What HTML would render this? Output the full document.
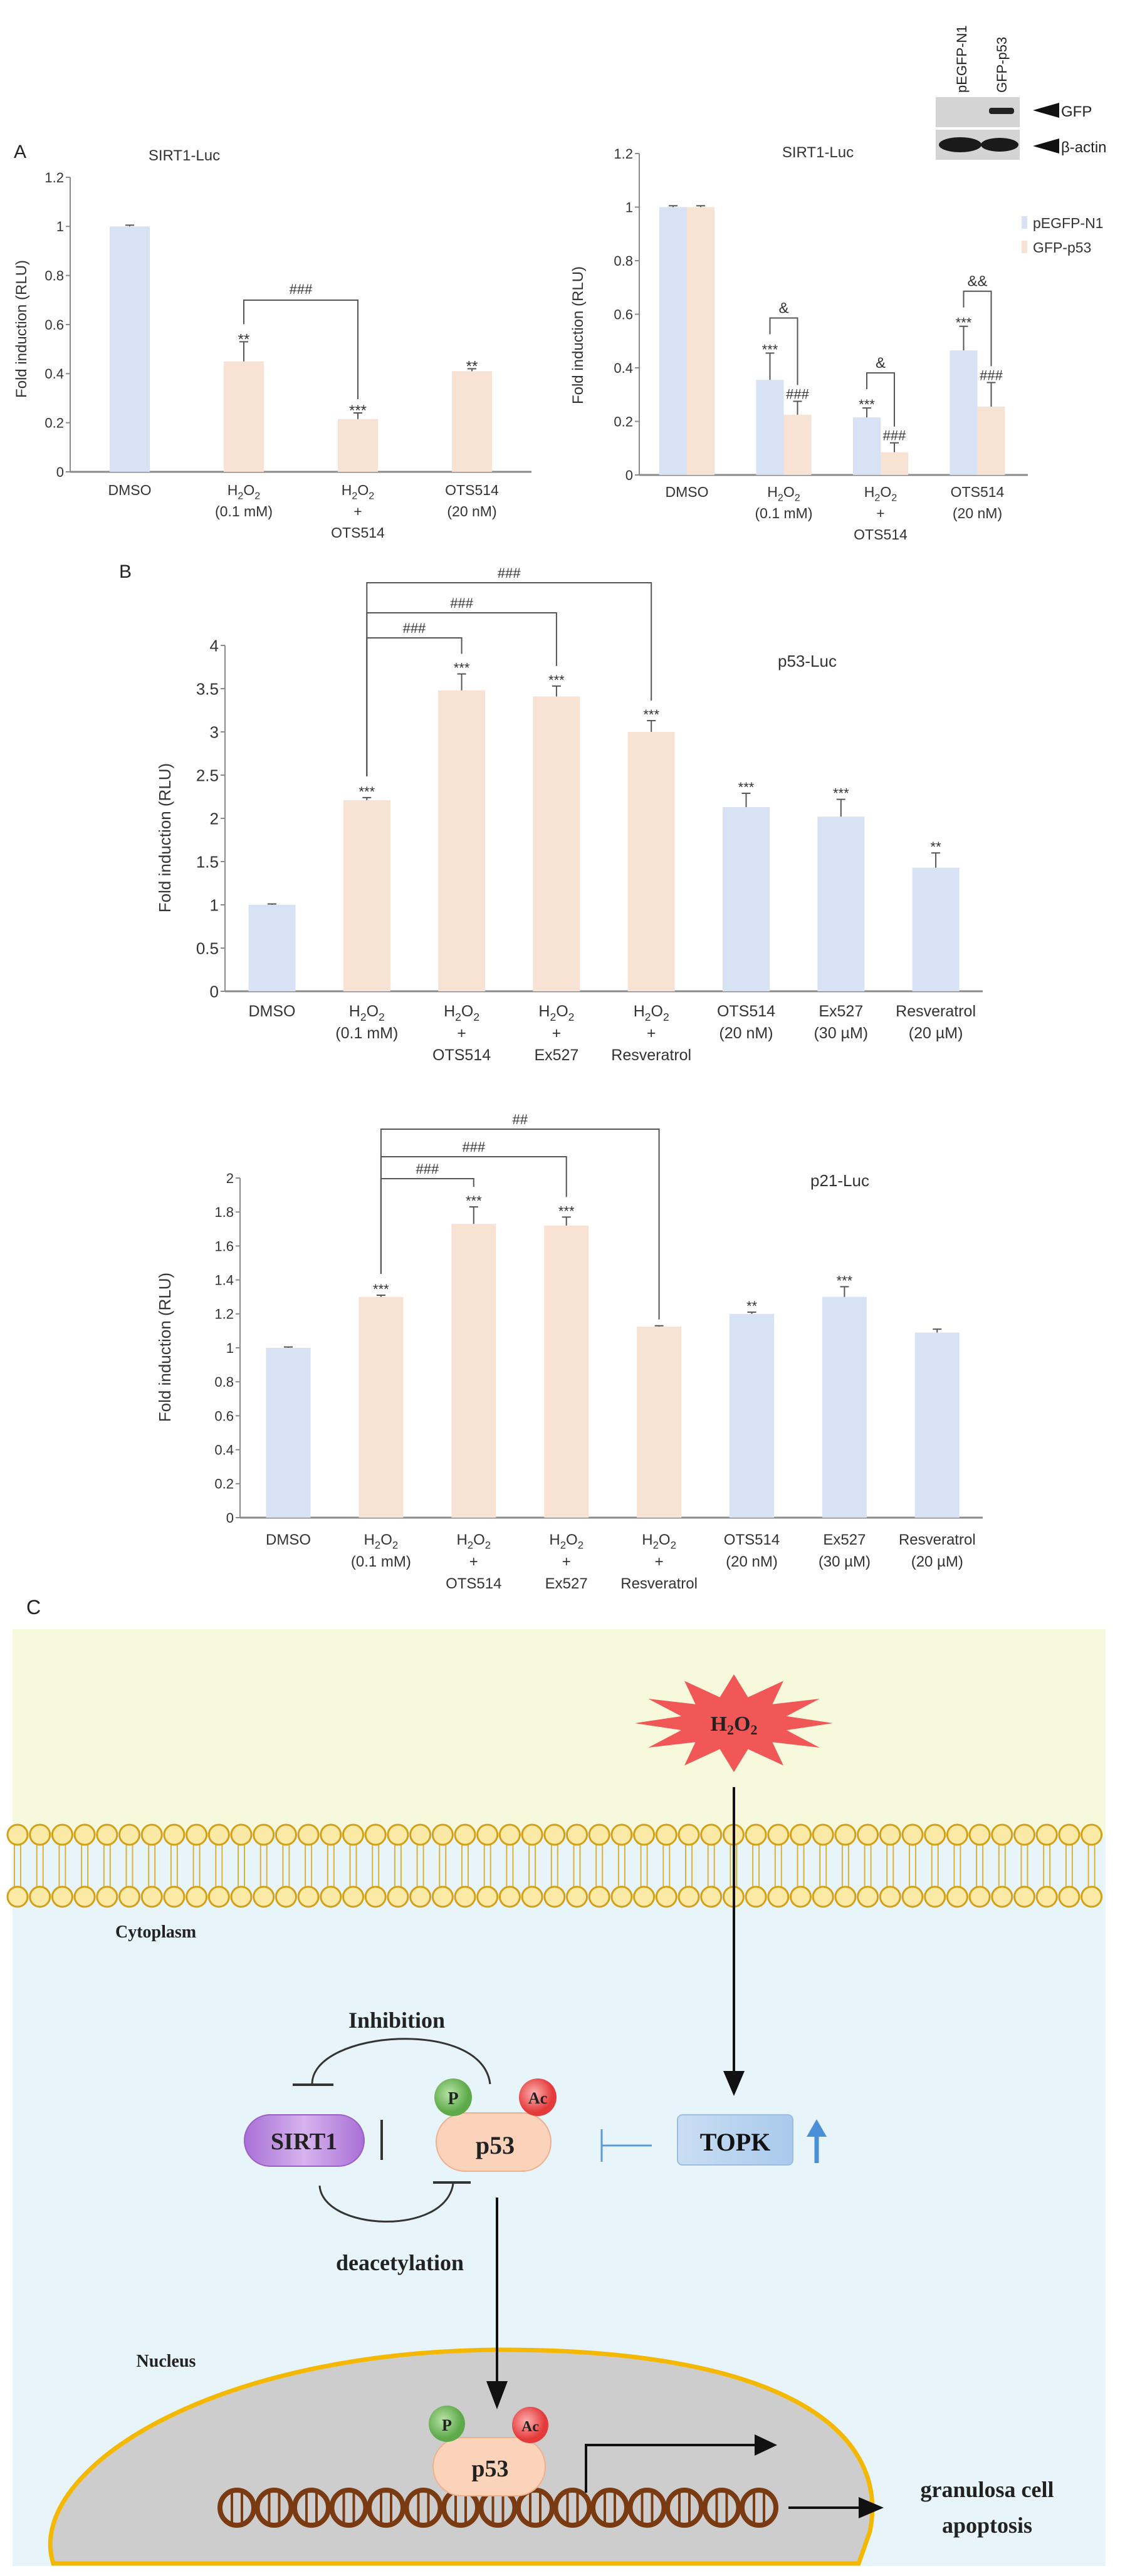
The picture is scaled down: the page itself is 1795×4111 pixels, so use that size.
<!DOCTYPE html>
<html><head><meta charset="utf-8"><style>
html,body{margin:0;padding:0;background:#fff}
svg{display:block}
text{font-family:"Liberation Sans",sans-serif}
.serif{font-family:"Liberation Serif",serif;font-weight:bold}
</style></head><body>
<svg id="fig" width="1795" height="4111" viewBox="0 0 1795 4111" xmlns="http://www.w3.org/2000/svg">
<g id="chartA1"></g>
<g id="chartA2"></g>
<g id="chartB1"></g>
<g id="chartB2"></g>
<text x="22" y="252" font-size="30" fill="#222">A</text>
<text x="190" y="922" font-size="30" fill="#222">B</text>
<text x="42" y="2576" font-size="32" fill="#222">C</text>

<!-- western blot -->
<g>
<rect x="1493" y="155" width="134" height="48" fill="#d4d4d4"/>
<rect x="1493" y="207" width="134" height="48" fill="#d4d4d4"/>
<rect x="1578" y="172" width="40" height="10" rx="4" fill="#222"/>
<ellipse cx="1532" cy="231" rx="34" ry="12" fill="#1a1a1a"/>
<ellipse cx="1595" cy="231" rx="30" ry="11" fill="#1a1a1a"/>
<text transform="translate(1542,148) rotate(-90)" font-size="22" fill="#222">pEGFP-N1</text>
<text transform="translate(1606,148) rotate(-90)" font-size="22" fill="#222">GFP-p53</text>
<polygon points="1648,176 1690,164 1690,188" fill="#111"/>
<text x="1693" y="186" font-size="24" fill="#222">GFP</text>
<polygon points="1648,233 1690,221 1690,245" fill="#111"/>
<text x="1693" y="243" font-size="24" fill="#222">β-actin</text>
</g>

<!-- panel C -->
<g id="panelC">
<rect x="20" y="2600" width="1744" height="330" fill="#f7f9dc"/>
<rect x="20" y="2930" width="1744" height="1165" fill="#e7f4f9"/>
<g id="membrane"></g>
<polygon id="star" fill="#f25757"/>
<text x="1171" y="2762" class="serif" font-size="34" text-anchor="middle" fill="#222">H<tspan font-size="22" dy="6">2</tspan><tspan dy="-6">O</tspan><tspan font-size="22" dy="6">2</tspan></text>
<line x1="1171" y1="2852" x2="1171" y2="3310" stroke="#111" stroke-width="4"/>
<polygon points="1154,3305 1188,3305 1171,3345" fill="#111"/>
<text x="184" y="3092" class="serif" font-size="28" fill="#222">Cytoplasm</text>
<text x="633" y="3236" class="serif" font-size="36" text-anchor="middle" fill="#222">Inhibition</text>
<path d="M498,3325 C500,3240 770,3220 782,3326" fill="none" stroke="#333" stroke-width="3"/>
<line x1="467" y1="3327" x2="532" y2="3327" stroke="#333" stroke-width="4"/>
<defs>
<linearGradient id="gS" x1="0" x2="1"><stop offset="0" stop-color="#a970d6"/><stop offset=".5" stop-color="#d6b3ee"/><stop offset="1" stop-color="#a970d6"/></linearGradient>
<linearGradient id="gT" x1="0" x2="1"><stop offset="0" stop-color="#c9def3"/><stop offset="1" stop-color="#a9c9ec"/></linearGradient>
<radialGradient id="gP" cx=".4" cy=".4"><stop offset="0" stop-color="#b9e3a7"/><stop offset="1" stop-color="#5eaa4a"/></radialGradient>
<radialGradient id="gA" cx=".4" cy=".4"><stop offset="0" stop-color="#ffb0b0"/><stop offset="1" stop-color="#e43a3a"/></radialGradient>
</defs>
<rect x="390" y="3375" width="191" height="82" rx="41" fill="url(#gS)" stroke="#9a5fc8" stroke-width="2"/>
<text x="485" y="3430" class="serif" font-size="38" text-anchor="middle" fill="#222">SIRT1</text>
<line x1="609" y1="3383" x2="609" y2="3447" stroke="#333" stroke-width="4"/>
<rect x="696" y="3372" width="183" height="93" rx="46" fill="#fad3ba" stroke="#f0b08c" stroke-width="2"/>
<text x="790" y="3437" class="serif" font-size="40" text-anchor="middle" fill="#222">p53</text>
<circle cx="723" cy="3347" r="30" fill="url(#gP)"/>
<text x="723" y="3358" class="serif" font-size="28" text-anchor="middle" fill="#222">P</text>
<circle cx="858" cy="3347" r="30" fill="url(#gA)"/>
<text x="858" y="3357" class="serif" font-size="26" text-anchor="middle" fill="#222">Ac</text>
<path d="M510,3488 C515,3560 710,3570 723,3485" fill="none" stroke="#333" stroke-width="3"/>
<line x1="691" y1="3483" x2="751" y2="3483" stroke="#333" stroke-width="4"/>
<text x="638" y="3623" class="serif" font-size="36" text-anchor="middle" fill="#222">deacetylation</text>
<line x1="960" y1="3424" x2="1040" y2="3424" stroke="#5b9bd5" stroke-width="3"/>
<line x1="960" y1="3398" x2="960" y2="3450" stroke="#5b9bd5" stroke-width="3"/>
<rect x="1081" y="3375" width="184" height="80" rx="8" fill="url(#gT)" stroke="#9dbde0" stroke-width="2"/>
<text x="1173" y="3432" class="serif" font-size="40" text-anchor="middle" fill="#111">TOPK</text>
<line x1="1303" y1="3452" x2="1303" y2="3405" stroke="#4a90d9" stroke-width="7"/>
<polygon points="1287,3410 1319,3410 1303,3382" fill="#4a90d9"/>
<path d="M85,4091 C40,3950 320,3755 790,3750 C1250,3748 1420,3880 1388,4040 L1370,4091 Z" fill="#cdcdcd" stroke="#f5b800" stroke-width="7"/>
<text x="265" y="3777" class="serif" font-size="28" text-anchor="middle" fill="#222">Nucleus</text>
<line x1="793" y1="3507" x2="793" y2="3805" stroke="#111" stroke-width="4"/>
<polygon points="776,3800 810,3800 793,3845" fill="#111"/>
<g id="dna"></g>
<rect x="691" y="3890" width="179" height="93" rx="46" fill="#fad3ba" stroke="#f0b08c" stroke-width="2"/>
<text x="782" y="3952" class="serif" font-size="38" text-anchor="middle" fill="#222">p53</text>
<circle cx="713" cy="3868" r="29" fill="url(#gP)"/>
<text x="713" y="3879" class="serif" font-size="26" text-anchor="middle" fill="#222">P</text>
<circle cx="846" cy="3870" r="29" fill="url(#gA)"/>
<text x="846" y="3880" class="serif" font-size="24" text-anchor="middle" fill="#222">Ac</text>
<polyline points="935,3978 935,3902 1208,3902" fill="none" stroke="#111" stroke-width="4"/>
<polygon points="1204,3885 1240,3902 1204,3919" fill="#111"/>
<line x1="1258" y1="4002" x2="1375" y2="4002" stroke="#111" stroke-width="4"/>
<polygon points="1370,3985 1410,4002 1370,4019" fill="#111"/>
<text x="1575" y="3985" class="serif" font-size="36" text-anchor="middle" fill="#222">granulosa cell</text>
<text x="1575" y="4042" class="serif" font-size="36" text-anchor="middle" fill="#222">apoptosis</text>
</g>
</svg>
<script>
// ---------- data ----------
const a1Categories=[['DMSO'],['H2O2','(0.1 mM)'],['H2O2','+','OTS514'],['OTS514','(20 nM)']];
const a1Values=[1.0,0.45,0.215,0.41];
const a1Errors=[0.005,0.08,0.025,0.01];
const a1Sig=['','**','***','**'];
const a1Group=[0,1,1,1];
const a1Ticks=[0,0.2,0.4,0.6,0.8,1,1.2];
const a1TickLabels=['0','0.2','0.4','0.6','0.8','1','1.2'];

const a2Categories=[['DMSO'],['H2O2','(0.1 mM)'],['H2O2','+','OTS514'],['OTS514','(20 nM)']];
const a2ValuesN1=[1.0,0.355,0.215,0.465];
const a2ErrorsN1=[0.005,0.1,0.035,0.09];
const a2ValuesP53=[1.0,0.225,0.085,0.255];
const a2ErrorsP53=[0.005,0.05,0.035,0.09];
const a2SigN1=['','***','***','***'];
const a2SigP53=['','###','###','###'];
const a2Amp=['','&','&','&&'];
const a2Series=['pEGFP-N1','GFP-p53'];
const a2Ticks=[0,0.2,0.4,0.6,0.8,1,1.2];
const a2TickLabels=['0','0.2','0.4','0.6','0.8','1','1.2'];

const bCategories=[['DMSO'],['H2O2','(0.1 mM)'],['H2O2','+','OTS514'],['H2O2','+','Ex527'],['H2O2','+','Resveratrol'],['OTS514','(20 nM)'],['Ex527','(30 µM)'],['Resveratrol','(20 µM)']];
const bGroup=[0,1,1,1,1,0,0,0];
const b1Values=[1.0,2.21,3.48,3.41,3.0,2.13,2.02,1.43];
const b1Errors=[0.01,0.03,0.19,0.12,0.13,0.16,0.2,0.17];
const b1Sig=['','***','***','***','***','***','***','**'];
const b1Brackets=[[1,2,'###'],[1,3,'###'],[1,4,'###']];
const b1Ticks=[0,0.5,1,1.5,2,2.5,3,3.5,4];
const b1TickLabels=['0','0.5','1','1.5','2','2.5','3','3.5','4'];

const b2Values=[1.0,1.30,1.73,1.72,1.125,1.20,1.30,1.09];
const b2Errors=[0.005,0.01,0.1,0.05,0.005,0.01,0.06,0.02];
const b2Sig=['','***','***','***','','**','***',''];
const b2Brackets=[[1,2,'###'],[1,3,'###'],[1,4,'##']];
const b2Ticks=[0,0.2,0.4,0.6,0.8,1,1.2,1.4,1.6,1.8,2];
const b2TickLabels=['0','0.2','0.4','0.6','0.8','1','1.2','1.4','1.6','1.8','2'];

// ---------- helpers ----------
const NS='http://www.w3.org/2000/svg';
const BLUE='#d7e3f4', PEACH='#f8e2d4', INK='#333', AX='#8a8a8a';
function mk(parent,tag,attrs,name){
  const el=document.createElementNS(NS,tag);
  for(const k in attrs) el.setAttribute(k,attrs[k]);
  
  
  parent.appendChild(el);return el;
}
function txt(parent,x,y,s,size,anchor,name,extra){
  const t=mk(parent,'text',Object.assign({x:x,y:y,'font-size':size,'text-anchor':anchor||'middle',fill:INK},extra||{}),name);
  if(s==='H2O2'){
    const sub=size*0.7,d=size*0.28;
    t.appendChild(document.createTextNode('H'));
    const a=document.createElementNS(NS,'tspan');a.setAttribute('font-size',sub);a.setAttribute('dy',d);a.textContent='2';t.appendChild(a);
    const b=document.createElementNS(NS,'tspan');b.setAttribute('dy',-d);b.textContent='O';t.appendChild(b);
    const c=document.createElementNS(NS,'tspan');c.setAttribute('font-size',sub);c.setAttribute('dy',d);c.textContent='2';t.appendChild(c);
  } else t.textContent=s;
  return t;
}
function ln(p,x1,y1,x2,y2,name,col,w){return mk(p,'line',{x1:x1,y1:y1,x2:x2,y2:y2,stroke:col||INK,'stroke-width':w||2},name);}
function errBar(p,x,y,yTop,name){
  ln(p,x,y,x,yTop,name,'#555',2);
  ln(p,x-7,yTop,x+7,yTop,name+'-cap','#555',2);
}
function axes(p,cfg){
  ln(p,cfg.ax,cfg.y(cfg.ticks[cfg.ticks.length-1]),cfg.ax,cfg.y(0),'y-axis',AX,2);
  ln(p,cfg.ax,cfg.y(0),cfg.axEnd,cfg.y(0),'x-axis',AX,3);
  cfg.ticks.forEach((t,i)=>{
    ln(p,cfg.ax-7,cfg.y(t),cfg.ax,cfg.y(t),'y-tick',AX,2);
    txt(p,cfg.ax-10,cfg.y(t)+cfg.tsize*0.36,cfg.tickLabels[i],cfg.tsize,'end','y-tick-label');
  });
}
function catLabels(p,cats,xf,y0,lh,size){
  cats.forEach((lines,i)=>lines.forEach((s,j)=>txt(p,xf(i),y0+j*lh,s,size,'middle','x-tick-label')));
}

// ---------- Chart A1 ----------
(function(){
  const g=document.getElementById('chartA1');
  const y=v=>753-v*391.7, x=i=>207+i*182, bw=64;
  axes(g,{ax:112,axEnd:848,y:y,ticks:a1Ticks,tickLabels:a1TickLabels,tsize:22});
  a1Values.forEach((v,i)=>{
    mk(g,'rect',{x:x(i)-bw/2,y:y(v),width:bw,height:y(0)-y(v),fill:a1Group[i]?PEACH:BLUE},'bar-'+i);
    errBar(g,x(i),y(v),y(v+a1Errors[i]),'error-bar');
    if(a1Sig[i]) txt(g,x(i),y(v+a1Errors[i])+4,a1Sig[i],24,'middle','significance-mark');
  });
  const top=479;
  mk(g,'polyline',{points:`${x(1)},${y(a1Values[1]+a1Errors[1])-28} ${x(1)},${top} ${x(2)},${top} ${x(2)},${y(a1Values[2]+a1Errors[2])-22}`,fill:'none',stroke:'#555','stroke-width':2},'comparison-bracket');
  txt(g,(x(1)+x(2))/2,top-10,'###',22,'middle','bracket-label');
  txt(g,294,256,'SIRT1-Luc',24,'middle','chart-title');
  txt(g,0,0,'Fold induction (RLU)',24,'middle','y-axis-title',{transform:'translate(42,525) rotate(-90)'});
  catLabels(g,a1Categories,x,790,34,23);
})();

// ---------- Chart A2 ----------
(function(){
  const g=document.getElementById('chartA2');
  const y=v=>758-v*427.5, x=i=>1096+i*154.5, bw=44;
  axes(g,{ax:1020,axEnd:1640,y:y,ticks:a2Ticks,tickLabels:a2TickLabels,tsize:22});
  a2ValuesN1.forEach((v,i)=>{
    const xb=x(i)-bw/2, xp=x(i)+bw/2, vp=a2ValuesP53[i];
    mk(g,'rect',{x:xb-bw/2,y:y(v),width:bw,height:y(0)-y(v),fill:BLUE},'bar-pegfp-'+i);
    mk(g,'rect',{x:xp-bw/2,y:y(vp),width:bw,height:y(0)-y(vp),fill:PEACH},'bar-gfp-p53-'+i);
    errBar(g,xb,y(v),y(v+a2ErrorsN1[i]),'error-bar');
    errBar(g,xp,y(vp),y(vp+a2ErrorsP53[i]),'error-bar');
    if(a2SigN1[i]) txt(g,xb,y(v+a2ErrorsN1[i])+2,a2SigN1[i],22,'middle','significance-mark');
    if(a2SigP53[i]) txt(g,xp,y(vp+a2ErrorsP53[i])-4,a2SigP53[i],22,'middle','significance-mark');
    if(a2Amp[i]){
      const top=y(v+a2ErrorsN1[i])-56;
      mk(g,'polyline',{points:`${xb},${y(v+a2ErrorsN1[i])-30} ${xb},${top} ${xp},${top} ${xp},${y(vp+a2ErrorsP53[i])-26}`,fill:'none',stroke:'#555','stroke-width':2},'comparison-bracket');
      txt(g,(xb+xp)/2,top-8,a2Amp[i],24,'middle','bracket-label');
    }
  });
  txt(g,1305,251,'SIRT1-Luc',24,'middle','chart-title');
  txt(g,0,0,'Fold induction (RLU)',24,'middle','y-axis-title',{transform:'translate(930,535) rotate(-90)'});
  catLabels(g,a2Categories,x,793,34,23);
  a2Series.forEach((s,i)=>{
    mk(g,'rect',{x:1630,y:345+i*39,width:9,height:20,fill:i?PEACH:BLUE},'legend-swatch');
    txt(g,1648,364+i*39,s,23,'start','legend-entry');
  });
})();

// ---------- Chart B ----------
function chartB(id,vals,errs,sig,brackets,ticks,tickLabels,cfg){
  const g=document.getElementById(id);
  const y=cfg.y, x=cfg.x, bw=cfg.bw;
  axes(g,{ax:cfg.ax,axEnd:cfg.axEnd,y:y,ticks:ticks,tickLabels:tickLabels,tsize:cfg.tsize});
  vals.forEach((v,i)=>{
    mk(g,'rect',{x:x(i)-bw/2,y:y(v),width:bw,height:y(0)-y(v),fill:bGroup[i]?PEACH:BLUE},'bar-'+i);
    errBar(g,x(i),y(v),y(v+errs[i]),'error-bar');
    if(sig[i]) txt(g,x(i),y(v+errs[i])-2,sig[i],22,'middle','significance-mark');
  });
  brackets.forEach((b,k)=>{
    const top=cfg.brTops[k];
    const l=b[0], r=b[1];
    const rEnd=y(vals[r]+errs[r])-(sig[r]?32:10);
    mk(g,'polyline',{points:`${x(l)},${y(vals[l]+errs[l])-34} ${x(l)},${top} ${x(r)},${top} ${x(r)},${rEnd}`,fill:'none',stroke:'#555','stroke-width':2},'comparison-bracket');
    txt(g,(x(l)+x(r))/2,top-8,b[2],22,'middle','bracket-label');
  });
  txt(g,cfg.title[0],cfg.title[1],cfg.title[2],26,'middle','chart-title');
  if(cfg.ylab) txt(g,0,0,'Fold induction (RLU)',26,'middle','y-axis-title',{transform:`translate(${cfg.ylab[0]},${cfg.ylab[1]}) rotate(-90)`});
  catLabels(g,bCategories,x,cfg.labY,35,cfg.lsize);
}
chartB('chartB1',b1Values,b1Errors,b1Sig,b1Brackets,b1Ticks,b1TickLabels,
  {y:v=>1582-v*138,x:i=>434+i*151.3,bw:75,ax:359,axEnd:1568,tsize:26,brTops:[1018,978,930],
   title:[1288,1064,'p53-Luc'],ylab:[272,1337],labY:1622,lsize:25});
chartB('chartB2',b2Values,b2Errors,b2Sig,b2Brackets,b2Ticks,b2TickLabels,
  {y:v=>2422-v*271,x:i=>460+i*147.9,bw:71,ax:383,axEnd:1568,tsize:22,brTops:[1881,1846,1802],
   title:[1340,1893,'p21-Luc'],ylab:[272,2150],labY:2465,lsize:24});

// ---------- Panel C drawing ----------
(function(){
  const m=document.getElementById('membrane');
  for(let x=28;x<=1770;x+=35.7){
    ln(m,x-5,2944,x-5,3011,'lipid-tail','#d9b23a',2);
    ln(m,x+5,2944,x+5,3011,'lipid-tail','#d9b23a',2);
  }
  for(let x=28;x<=1770;x+=35.7){
    mk(m,'circle',{cx:x,cy:2928,r:16,fill:'#fbe9a6',stroke:'#d4a017','stroke-width':3},'lipid-head');
    mk(m,'circle',{cx:x,cy:3027,r:16,fill:'#fbe9a6',stroke:'#d4a017','stroke-width':3},'lipid-head');
  }
  const pts=[];
  for(let k=0;k<24;k++){
    const a=k*Math.PI/12-Math.PI/2, r=k%2?0.55:1;
    pts.push((1171+158*r*Math.cos(a)).toFixed(1)+','+(2750+78*r*Math.sin(a)).toFixed(1));
  }
  document.getElementById('star').setAttribute('points',pts.join(' '));
  const d=document.getElementById('dna');
  for(let x=378;x<1240;x+=59.5){
    mk(d,'ellipse',{cx:x,cy:4002,rx:27,ry:28,fill:'none',stroke:'#7a3a12','stroke-width':8},'dna-loop');
    ln(d,x-8,3978,x-8,4026,'dna-rung','#7a3a12',4);
    ln(d,x+8,3978,x+8,4026,'dna-rung','#7a3a12',4);
  }
})();
</script>
</body></html>
